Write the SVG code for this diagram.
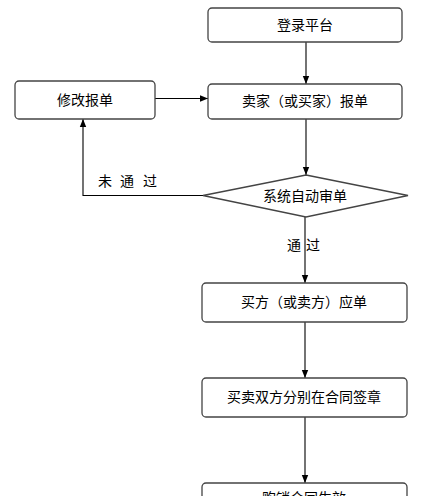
<svg xmlns="http://www.w3.org/2000/svg" width="425" height="496" viewBox="0 0 425 496">
<defs>
<marker id="arr" viewBox="0 0 8 8" refX="8" refY="4" markerWidth="8" markerHeight="8" markerUnits="userSpaceOnUse" orient="auto">
<path d="M0,0.8 L8,4 L0,7.2 Z" fill="#000"/>
</marker>
</defs>
<style>
.box{fill:#fff;stroke:#444;stroke-width:1.3}
.t{font-family:"Noto Sans CJK SC","Noto Sans CJK JP",sans-serif;font-size:14px;fill:#000;text-anchor:middle}
.c{fill:none;stroke:#000;stroke-width:1.1}
</style>
<rect width="425" height="496" fill="#fff"/>
<g id="connectors">
<line class="c" x1="306" y1="42" x2="306" y2="84" marker-end="url(#arr)"/>
<line class="c" x1="155" y1="98.5" x2="208" y2="98.5" marker-end="url(#arr)"/>
<line class="c" x1="306" y1="119" x2="306" y2="175" marker-end="url(#arr)"/>
<polyline class="c" points="203,195.5 83,195.5 83,119" marker-end="url(#arr)"/>
<line class="c" x1="305" y1="217" x2="305" y2="283" marker-end="url(#arr)"/>
<line class="c" x1="305" y1="322" x2="305" y2="378" marker-end="url(#arr)"/>
<line class="c" x1="305" y1="417" x2="305" y2="483" marker-end="url(#arr)"/>
<text class="t" y="186"><tspan x="105">未</tspan><tspan x="127">通</tspan><tspan x="150">过</tspan></text>
<text class="t" y="250"><tspan x="294">通</tspan><tspan x="313">过</tspan></text>
</g>
<g id="login">
<rect class="box" x="208" y="8" width="194" height="34" rx="4"/>
<text class="t" x="305" y="30">登录平台</text>
</g>
<g id="submit">
<rect class="box" x="208" y="84" width="194" height="35" rx="4"/>
<text class="t" x="305" y="106">卖家（或买家）报单</text>
</g>
<g id="modify">
<rect class="box" x="15" y="81" width="140" height="38" rx="4"/>
<text class="t" x="85" y="105">修改报单</text>
</g>
<g id="review">
<polygon class="box" points="306,175 408,195.5 306,217 203,195.5"/>
<text class="t" x="305" y="201">系统自动审单</text>
</g>
<g id="respond">
<rect class="box" x="202" y="283" width="205" height="39" rx="4"/>
<text class="t" x="304" y="307">买方（或卖方）应单</text>
</g>
<g id="sign">
<rect class="box" x="202" y="378" width="205" height="39" rx="4"/>
<text class="t" x="304" y="402">买卖双方分别在合同签章</text>
</g>
<g id="effective">
<rect class="box" x="202" y="483" width="205" height="39" rx="4"/>
<text class="t" x="304" y="503">购销合同生效</text>
</g>
</svg>
